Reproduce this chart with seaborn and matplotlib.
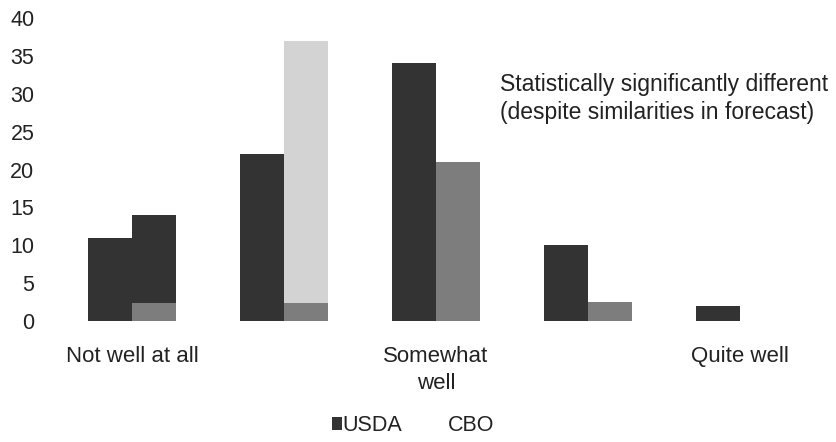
import pandas as pd
import matplotlib
matplotlib.use('Agg')
import matplotlib.pyplot as plt
import seaborn as sns

# Chart values
categories = ['c1', 'c2', 'c3', 'c4', 'c5']
tick_labels = ['Not well at all', '', 'Somewhat\nwell', '', 'Quite well']
series = ['USDA', 'CBO']
usda_values = [11, 22, 34, 10, 2]
cbo_values = [2.4, 2.4, 21, 2.5, 0]
# tall shaded blocks sitting over the first two CBO bars in the scan
cbo_overlay = [14, 37, 0, 0, 0]

dark = '#333333'
grey = '#7d7d7d'
light = '#d3d3d3'
overlay_colors = [dark, light, grey, grey, grey]

sns.set_theme(style='white')
plt.rcParams['font.family'] = ['Liberation Sans', 'DejaVu Sans']

df = pd.DataFrame({
    'Category': categories * 2,
    'Series': ['USDA'] * len(categories) + ['CBO'] * len(categories),
    'Value': usda_values + cbo_values,
})
df_overlay = pd.DataFrame({
    'Category': categories * 2,
    'Series': ['USDA'] * len(categories) + ['CBO'] * len(categories),
    'Value': [0] * len(categories) + cbo_overlay,
})

fig = plt.figure(figsize=(8.36, 4.42), dpi=100)
ax = fig.add_axes([40 / 836, 1 - 321 / 442, 785 / 836, 303 / 442])

# overlay layer first, then the real bars drawn on top
sns.barplot(data=df_overlay, x='Category', y='Value', hue='Series',
            hue_order=series, palette=[dark, dark], width=0.58,
            legend=False, ax=ax, linewidth=0)
for bar, col in zip(ax.containers[1], overlay_colors):
    bar.set_facecolor(col)

sns.barplot(data=df, x='Category', y='Value', hue='Series',
            hue_order=series, palette=[dark, grey], width=0.58,
            ax=ax, linewidth=0)

ax.set_xlim(-92 / 152, 693 / 152)
ax.set_ylim(0, 40)
ax.set_yticks(range(0, 41, 5))
ax.set_xticks(range(len(categories)))
ax.set_xticklabels(tick_labels, linespacing=1.4)
ax.set_xlabel('')
ax.set_ylabel('')
ax.tick_params(axis='y', labelsize=15.5, length=0, pad=4, colors='#222222')
ax.tick_params(axis='x', labelsize=16, length=0, pad=18, colors='#222222')
sns.despine(ax=ax, left=True, bottom=True)

ax.text(2.42, 32.8, 'Statistically significantly different\n(despite similarities in forecast)',
        fontsize=16.5, va='top', ha='left', color='#222222', linespacing=1.3)

# legend: only the USDA swatch shows in the scan
handles, labels = ax.get_legend_handles_labels()
handles[1].set_alpha(0)
ax.legend(handles, labels, loc='center', bbox_to_anchor=(0.475, -0.345),
          ncol=2, frameon=False, fontsize=15.5, handlelength=0.45,
          handleheight=0.6, handletextpad=0.05, columnspacing=1.6,
          labelcolor='#222222')

fig.savefig('out.png', dpi=100)
